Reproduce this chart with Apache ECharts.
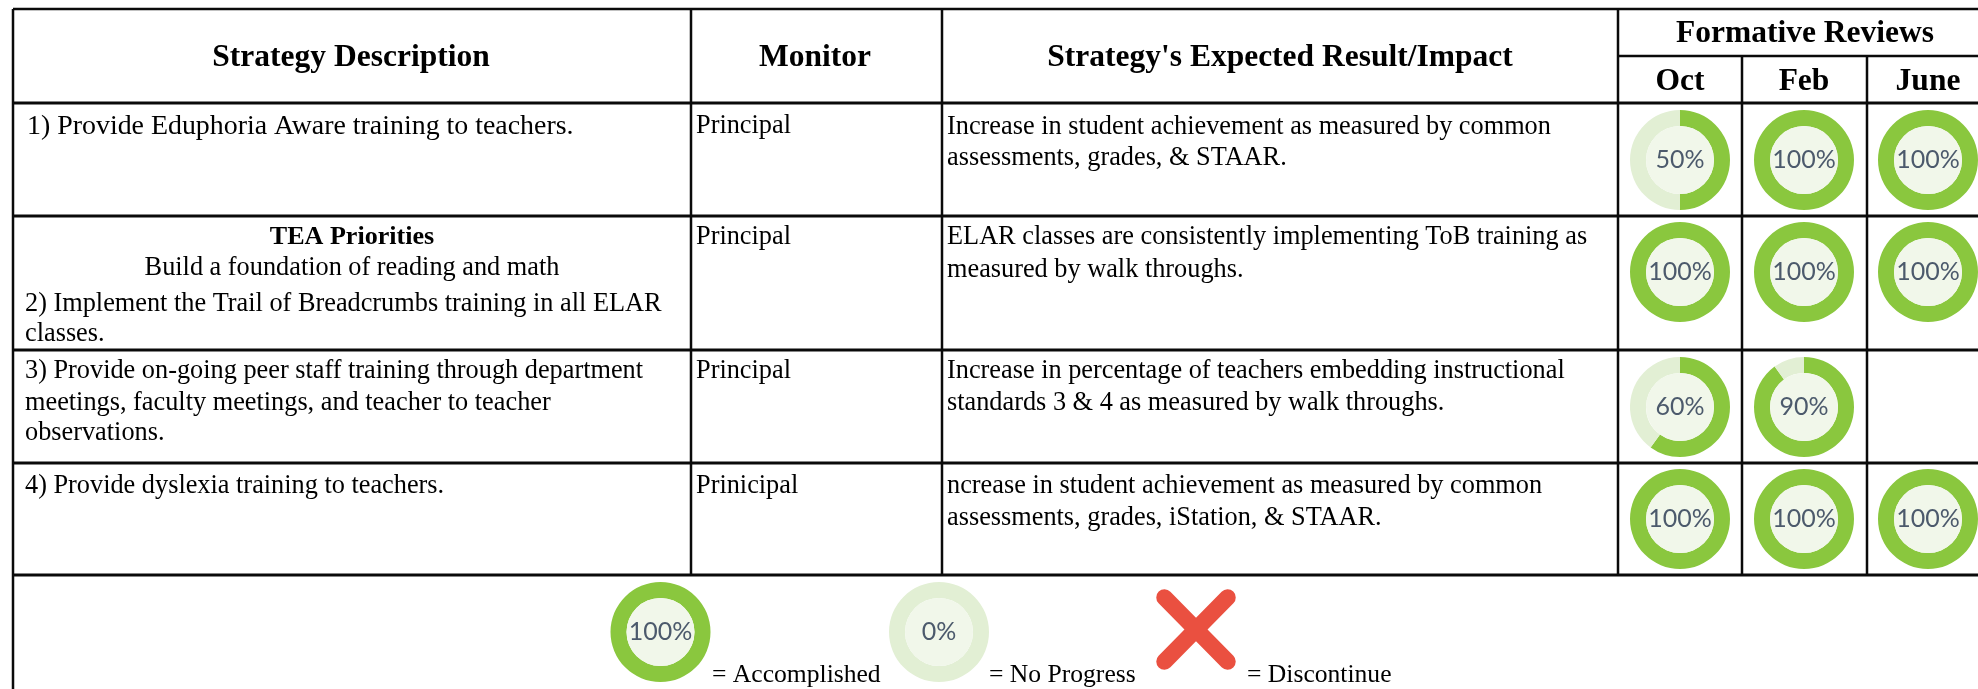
<!DOCTYPE html>
<html>
<head>
<meta charset="utf-8">
<style>html,body{margin:0;padding:0;background:#fff}#c{width:1978px;height:689px;filter:blur(0.4px)}</style>
<script src="https://cdn.jsdelivr.net/npm/echarts@6/dist/echarts.min.js"></script>
</head>
<body>
<div id="c"></div>
<script>
const headers = ["Strategy Description", "Monitor", "Strategy's Expected Result/Impact", "Formative Reviews"];
const reviewMonths = ["Oct", "Feb", "June"];
const strategyLines = [
  ["1) Provide Eduphoria Aware training to teachers."],
  ["2) Implement the Trail of Breadcrumbs training in all ELAR", "classes."],
  ["3) Provide on-going peer staff training through department", "meetings, faculty meetings, and teacher to teacher", "observations."],
  ["4) Provide dyslexia training to teachers."]
];
const priorityTitle = "TEA Priorities";
const prioritySubtitle = "Build a foundation of reading and math";
const monitors = ["Principal", "Principal", "Principal", "Prinicipal"];
const impactLines = [
  ["Increase in student achievement as measured by common", "assessments, grades, & STAAR."],
  ["ELAR classes are consistently implementing ToB training as", "measured by walk throughs."],
  ["Increase in percentage of teachers embedding instructional", "standards 3 & 4 as measured by walk throughs."],
  ["ncrease in student achievement as measured by common", "assessments, grades, iStation, & STAAR."]
];
const octValues = [50, 100, 60, 100];
const febValues = [100, 100, 90, 100];
const juneValues = [100, 100, null, 100];
const legendValues = [100, 0];
const legendTexts = ["= Accomplished", "= No Progress", "= Discontinue"];

const SERIF = '"Liberation Serif","Times New Roman",serif';
const GREEN = '#8ac73e', PALE = '#e2efd4', INNER = '#f1f7ea', INK = '#000', LABEL = '#4c5a6c';
const colX = [13, 691, 942, 1618, 1742, 1867];
const rowY = [103, 216, 350, 463, 575];
const rightEdge = 1978, topY = 9, subY = 56, bottomY = 689;
const donutX = [1680, 1804, 1928];
const donutY = [160, 272, 407, 519];
const rOuter = 50, rInner = 34;

function donut(cx, cy, v, labelSize) {
  return [{
    type: 'pie', silent: true, animation: false, center: [cx, cy], radius: [rInner, rOuter],
    startAngle: 90, clockwise: true, label: {show: false}, labelLine: {show: false},
    data: [{value: v, itemStyle: {color: GREEN}}, {value: 100 - v, itemStyle: {color: PALE}}]
  }, {
    type: 'pie', silent: true, animation: false, center: [cx, cy], radius: [0, rInner],
    label: {show: true, position: 'center', formatter: v + '%', fontFamily: 'Lato, "Open Sans", sans-serif', fontSize: labelSize, color: LABEL},
    labelLine: {show: false},
    data: [{value: 1, itemStyle: {color: INNER}}]
  }];
}
const series = [];
[octValues, febValues, juneValues].forEach((col, c) => col.forEach((v, r) => {
  if (v !== null) series.push(...donut(donutX[c], donutY[r], v, 25));
}));
legendValues.forEach((v, i) => series.push(...donut([660.5, 939][i], 632, v, 25)));

const g = [];
const line = (x1, y1, x2, y2, w = 2.5) => g.push({type: 'line', silent: true, shape: {x1, y1, x2, y2}, style: {stroke: '#0a0a0a', lineWidth: w}});
const text = (t, x, y, size, bold, align = 'left') => g.push({type: 'text', silent: true, x, y: y + 2.5, style: {
  text: t, x: 0, y: 0, align, verticalAlign: 'middle', fontFamily: SERIF, fontSize: size, fontWeight: bold ? 'bold' : 'normal', fill: INK}});

line(colX[0], topY, rightEdge, topY);
rowY.forEach(y => line(colX[0], y, rightEdge, y, 3));
line(colX[3], subY, rightEdge, subY);
line(colX[0], topY, colX[0], bottomY);
[1, 2].forEach(i => line(colX[i], topY, colX[i], rowY[4]));
line(colX[3], topY, colX[3], rowY[4]);
[4, 5].forEach(i => line(colX[i], subY, colX[i], rowY[4]));

const HS = 31.5, BS = 26.3, LS = 25.6;
text(headers[0], 351, 55, HS, true, 'center');
text(headers[1], 815, 55, HS, true, 'center');
text(headers[2], 1280, 55, HS, true, 'center');
text(headers[3], 1805, 31, HS, true, 'center');
reviewMonths.forEach((m, i) => text(m, donutX[i], 79, HS, true, 'center'));

const col1Y = [[124], [302, 332], [369, 401, 431], [484]];
const col3Y = [[125, 156], [235, 268], [369, 401], [484, 516]];
const monY = [124, 235, 369, 484];
strategyLines.forEach((ls, r) => ls.forEach((t, i) => text(t, r === 0 ? 27 : 25, col1Y[r][i], r === 0 ? 27.9 : BS)));
text(priorityTitle, 352, 235, 26.1, true, 'center');
text(prioritySubtitle, 352, 266, BS, false, 'center');
monitors.forEach((t, r) => text(t, 696, monY[r], BS));
impactLines.forEach((ls, r) => ls.forEach((t, i) => text(t, 947, col3Y[r][i], BS)));

[712, 989, 1247].forEach((x, i) => text(legendTexts[i], x, 673, LS));
const cross = (x1, y1, x2, y2) => g.push({type: 'line', silent: true, shape: {x1, y1, x2, y2}, style: {stroke: '#ea5040', lineWidth: 16.5, lineCap: 'round'}});
cross(1164.5, 597.5, 1227.5, 661.5);
cross(1227.5, 597.5, 1164.5, 661.5);

const chart = echarts.init(document.getElementById('c'), null, {renderer: 'canvas'});
chart.setOption({animation: false, backgroundColor: '#fff', series, graphic: {elements: g}});
</script>
</body>
</html>
